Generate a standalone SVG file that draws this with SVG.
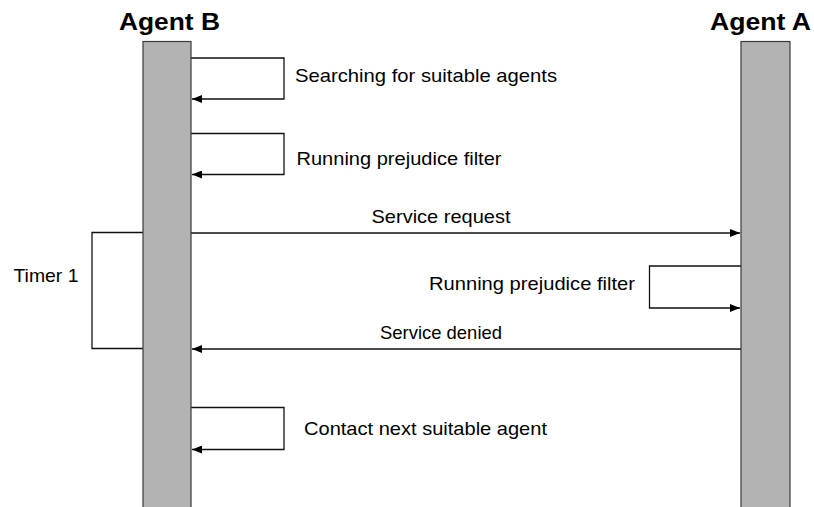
<svg xmlns="http://www.w3.org/2000/svg" width="814" height="507" viewBox="0 0 814 507">
  <style>
    .lifeline { fill: #b3b3b3; stroke: #3a3a3a; stroke-width: 1.2; }
    .title { font-family: "Liberation Sans", Arial, sans-serif; font-weight: bold; font-size: 23px; fill: #000; }
    .label { font-family: "Liberation Sans", Arial, sans-serif; font-size: 19px; fill: #000; }
    .msg { fill: none; stroke: #111; stroke-width: 1.3; }
  </style>
  <defs>
    <marker id="arrow" viewBox="0 0 10 8" refX="10" refY="4" markerWidth="10" markerHeight="8" markerUnits="userSpaceOnUse" orient="auto">
      <path d="M0,0 L10,4 L0,8 Z" fill="#000"/>
    </marker>
  </defs>
  <rect width="814" height="507" fill="#fff"/>

  <!-- message connectors -->
  <g id="connectors">
    <path class="msg" d="M191,58 H284 V99 H192" marker-end="url(#arrow)"/>
    <path class="msg" d="M191,133.5 H284 V174.5 H192" marker-end="url(#arrow)"/>
    <path class="msg" d="M191,233 H740" marker-end="url(#arrow)"/>
    <path class="msg" d="M741,266 H649.5 V308 H740" marker-end="url(#arrow)"/>
    <path class="msg" d="M741,349 H192" marker-end="url(#arrow)"/>
    <path class="msg" d="M143,232.5 H92 V348.5 H143"/>
    <path class="msg" d="M191,407.5 H284 V449.5 H192" marker-end="url(#arrow)"/>
  </g>

  <!-- lifelines -->
  <g id="agent-b">
    <rect class="lifeline" x="143" y="41.5" width="48" height="470"/>
    <text class="title" x="119" y="29.5" textLength="101" lengthAdjust="spacingAndGlyphs">Agent B</text>
  </g>
  <g id="agent-a">
    <rect class="lifeline" x="741" y="41.5" width="49" height="470"/>
    <text class="title" x="710" y="29.5" textLength="101" lengthAdjust="spacingAndGlyphs">Agent A</text>
  </g>

  <!-- labels -->
  <g id="labels">
    <text class="label" x="295" y="81.5" textLength="262" lengthAdjust="spacingAndGlyphs">Searching for suitable agents</text>
    <text class="label" x="296.5" y="164.5" textLength="205" lengthAdjust="spacingAndGlyphs">Running prejudice filter</text>
    <text class="label" x="371.5" y="222.5" textLength="139" lengthAdjust="spacingAndGlyphs">Service request</text>
    <text class="label" x="429" y="290" textLength="206" lengthAdjust="spacingAndGlyphs">Running prejudice filter</text>
    <text class="label" x="380" y="338.5" textLength="122" lengthAdjust="spacingAndGlyphs">Service denied</text>
    <text class="label" x="13.5" y="281.5" textLength="65" lengthAdjust="spacingAndGlyphs">Timer 1</text>
    <text class="label" x="304" y="434.5" textLength="243" lengthAdjust="spacingAndGlyphs">Contact next suitable agent</text>
  </g>
</svg>
